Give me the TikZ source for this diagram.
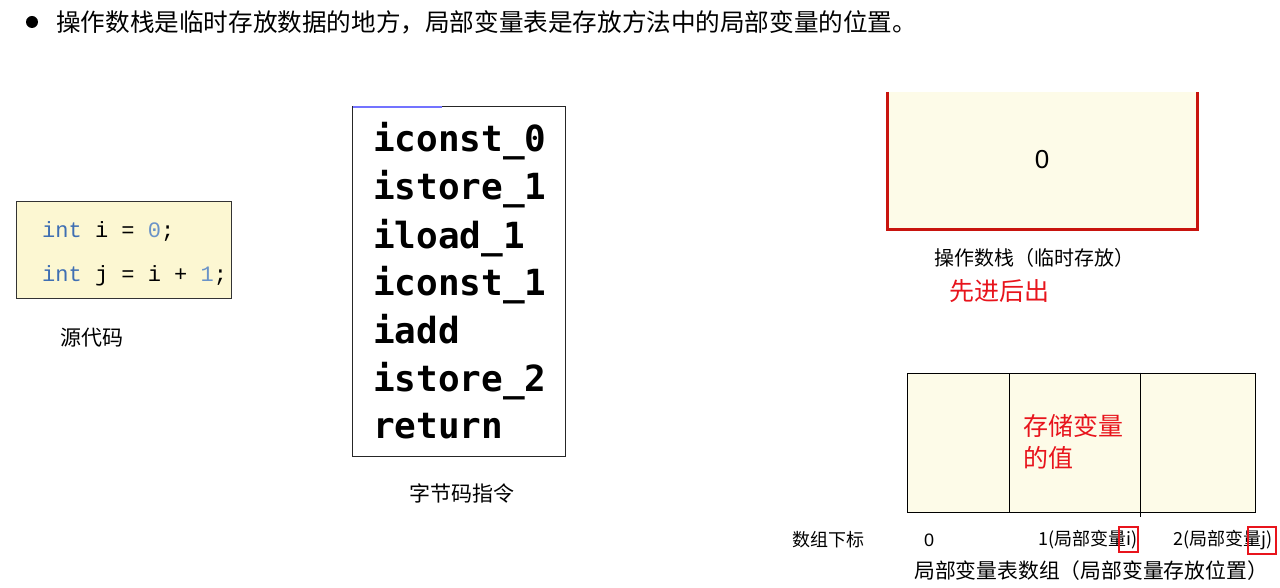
\documentclass[tikz,border=0pt]{standalone}
\usepackage{fontspec}
\setmainfont{Noto Sans CJK SC}
\newfontfamily\cjk{Noto Sans CJK SC}
\newfontfamily\codefont{Liberation Mono}
\newfontfamily\bcfont{DejaVu Sans Mono Bold}
\definecolor{kw}{HTML}{3F6FB3}
\definecolor{num}{HTML}{6A93C8}
\definecolor{paper}{HTML}{FCF7D2}
\definecolor{cream}{HTML}{FDFBE8}
\definecolor{stackred}{HTML}{C8140E}
\definecolor{hired}{HTML}{E8141C}
\begin{document}
\begin{tikzpicture}[x=1pt,y=-1pt,
  cjktext/.style={inner sep=0pt,font=\cjk\fontsize{#1}{#1}\selectfont},
  code/.style={anchor=west,inner sep=0pt,font=\codefont\fontsize{22}{22}\selectfont},
  bc/.style={anchor=base west,inner sep=0pt,font=\bcfont\fontsize{36}{36}\selectfont},
  redtext/.style={text=hired},
  hibox/.style={draw=hired,line width=2pt}]
\useasboundingbox (0,0) rectangle (1280,588);
\fill[white] (0,0) rectangle (1280,588);
% heading
\fill (32,22) circle (6);
\node[cjktext=24.6,anchor=west] (head) at (56,22) {操作数栈是临时存放数据的地方，局部变量表是存放方法中的局部变量的位置。};
% source code
\node[draw=black!80,line width=1pt,fill=paper,minimum width=215,minimum height=96,inner sep=0pt] (src) at (123.5,250) {};
\node[code] (l1) at (42,231) {\textcolor{kw}{int} i = \textcolor{num}{0};};
\node[code] (l2) at (42,276) {\textcolor{kw}{int} j = i + \textcolor{num}{1};};
\node[cjktext=21] (srccap) at (92,338) {源代码};
% bytecode
\node[draw=black!85,line width=1pt,fill=white,minimum width=213,minimum height=349,inner sep=0pt] (bcbox) at (458.5,281.5) {};
\draw[blue!55,line width=1.2pt] (353,107) -- (442,107);
\node[bc] (b1) at (373,152) {iconst\_0};
\node[bc] (b2) at (373,200) {istore\_1};
\node[bc] (b3) at (373,248) {iload\_1};
\node[bc] (b4) at (373,295) {iconst\_1};
\node[bc] (b5) at (373,343) {iadd};
\node[bc] (b6) at (373,391) {istore\_2};
\node[bc] (b7) at (373,438) {return};
\node[cjktext=21] (bccap) at (462,493) {字节码指令};
% operand stack
\fill[cream] (887,92) rectangle (1197,230);
\draw[stackred,line width=3pt] (887,92) -- (887,230) -- (1197,230) -- (1197,92);
\node[inner sep=0pt,font=\fontspec{Liberation Sans}\fontsize{26}{26}\selectfont] (top) at (1042,160) {0};
\node[cjktext=20] (stcap) at (1034,258) {操作数栈（临时存放）};
\node[cjktext=25,redtext] (lifo) at (999,291) {先进后出};
% local variable table
\node[draw,fill=cream,line width=1pt,minimum width=102,minimum height=139,inner sep=0pt] (c0) at (958,442.5) {};
\node[draw,fill=cream,line width=1pt,minimum width=131,minimum height=139,inner sep=0pt] (c1) at (1074.5,442.5) {};
\node[draw,fill=cream,line width=1pt,minimum width=115,minimum height=139,inner sep=0pt] (c2) at (1197.5,442.5) {};
\draw[line width=1.5pt] (c1.north east) -- ([yshift=-4pt]c1.south east);
\node[cjktext=25,redtext,anchor=north west,align=left,font=\cjk\fontsize{25}{32}\selectfont] (val) at (1023,414) {存储变量\\的值};
\node[cjktext=18] (idx) at (828,540) {数组下标};
\node[inner sep=0pt,font=\fontspec{Liberation Sans}\fontsize{18}{18}\selectfont] (i0) at (929,540) {0};
\node[cjktext=18,anchor=east] (i1) at (1138,540) {1(局部变量i)};
\node[cjktext=18,anchor=east] (i2) at (1273,540) {2(局部变量j)};
\draw[hibox] (1119,527) rectangle (1138,552);
\draw[hibox] (1248,527) rectangle (1276,554);
\node[cjktext=20.8] (tblcap) at (1091,571) {局部变量表数组（局部变量存放位置）};
\end{tikzpicture}
\end{document}
